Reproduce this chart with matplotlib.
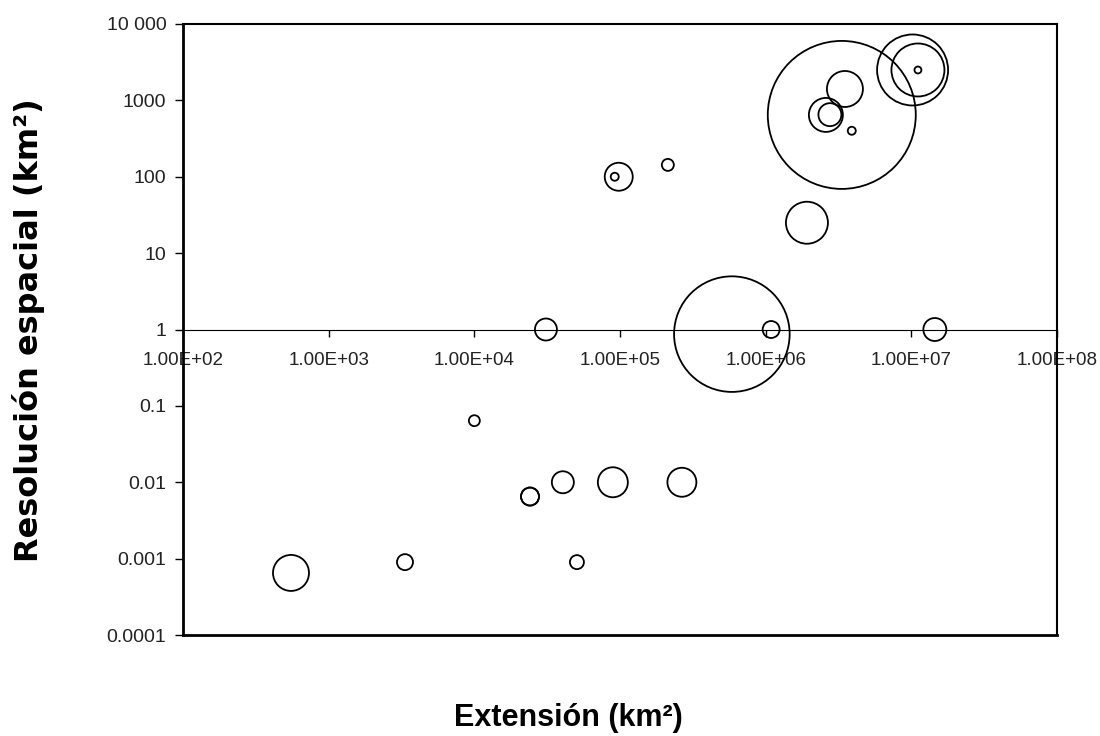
import matplotlib
matplotlib.use("Agg")
import matplotlib.pyplot as plt
from matplotlib.ticker import FixedLocator, FuncFormatter, NullLocator

plt.rcParams['font.family'] = ['Liberation Sans', 'DejaVu Sans']

# datos
extension = [551, 3340, 10000, 24100, 24100, 40500, 89300, 266000, 50600, 31000,
             586000, 1.09e6, 1.45e7, 98000, 92000, 213000, 1.92e6, 3.33e6, 3.5e6,
             2.59e6, 2.76e6, 3.9e6, 1.02e7, 1.11e7, 1.11e7]
resolucion = [0.00065, 0.0009, 0.064, 0.0065, 0.0065, 0.01, 0.01, 0.01, 0.0009, 1,
              0.87, 1, 1, 100, 100, 143, 25, 645, 1410, 645, 650, 400, 2500, 2500, 2500]
tamano = [324, 64, 30, 81, 81, 121, 225, 210, 49, 121, 3340, 72, 132, 196, 16, 36,
          441, 5476, 324, 289, 132, 16, 1260, 702, 12]

x_ticks = [1e2, 1e3, 1e4, 1e5, 1e6, 1e7, 1e8]
y_ticks = [1e-4, 1e-3, 1e-2, 1e-1, 1, 10, 100, 1000, 10000]
y_labels = ['0.0001', '0.001', '0.01', '0.1', '1', '10', '100', '1000', '10 000']

fig = plt.figure(figsize=(11, 7.36), dpi=100)
ax = fig.add_axes([0.1664, 0.1372, 0.7945, 0.8302])

s = [t * 2.0736 for t in tamano]
ax.scatter(extension, resolucion, s=s, facecolors='none', edgecolors='black',
           linewidths=1.3, zorder=3)

ax.set_xscale('log')
ax.set_yscale('log')
ax.set_xlim(1e2, 1e8)
ax.set_ylim(1e-4, 1e4)

ax.yaxis.set_major_locator(FixedLocator(y_ticks))
ax.yaxis.set_minor_locator(NullLocator())
ax.set_yticklabels(y_labels)
ax.tick_params(axis='y', direction='out', length=6, width=1, pad=6,
               labelsize=14, labelcolor='#222222')
ax.tick_params(axis='x', which='both', bottom=False, labelbottom=False)
ax.spines['left'].set_linewidth(2.0)
ax.spines['bottom'].set_linewidth(2.0)
ax.spines['top'].set_linewidth(1.5)
ax.spines['right'].set_linewidth(1.5)

# eje x cruzando en y = 1
sec = ax.secondary_xaxis(0.5)
sec.xaxis.set_major_locator(FixedLocator(x_ticks))
sec.xaxis.set_minor_locator(NullLocator())
sec.xaxis.set_major_formatter(FuncFormatter(lambda v, p: f"{v:.2E}"))
sec.xaxis.set_ticks_position('bottom')
sec.tick_params(axis='x', direction='out', length=5, width=1, pad=11,
                labelsize=13.5, labelcolor='#222222')
sec.spines['bottom'].set_linewidth(1.0)
sec.spines['bottom'].set_color('#333333')

fig.text(29 / 1100, 1 - 330 / 736, 'Resolución espacial (km²)', rotation=90,
         ha='center', va='center', fontsize=23, fontweight='bold',
         family=['DejaVu Sans'])
fig.text(568 / 1100, 1 - 718 / 736, 'Extensión (km²)', ha='center', va='center',
         fontsize=22, fontweight='bold')

fig.savefig('out.png', dpi=100)
